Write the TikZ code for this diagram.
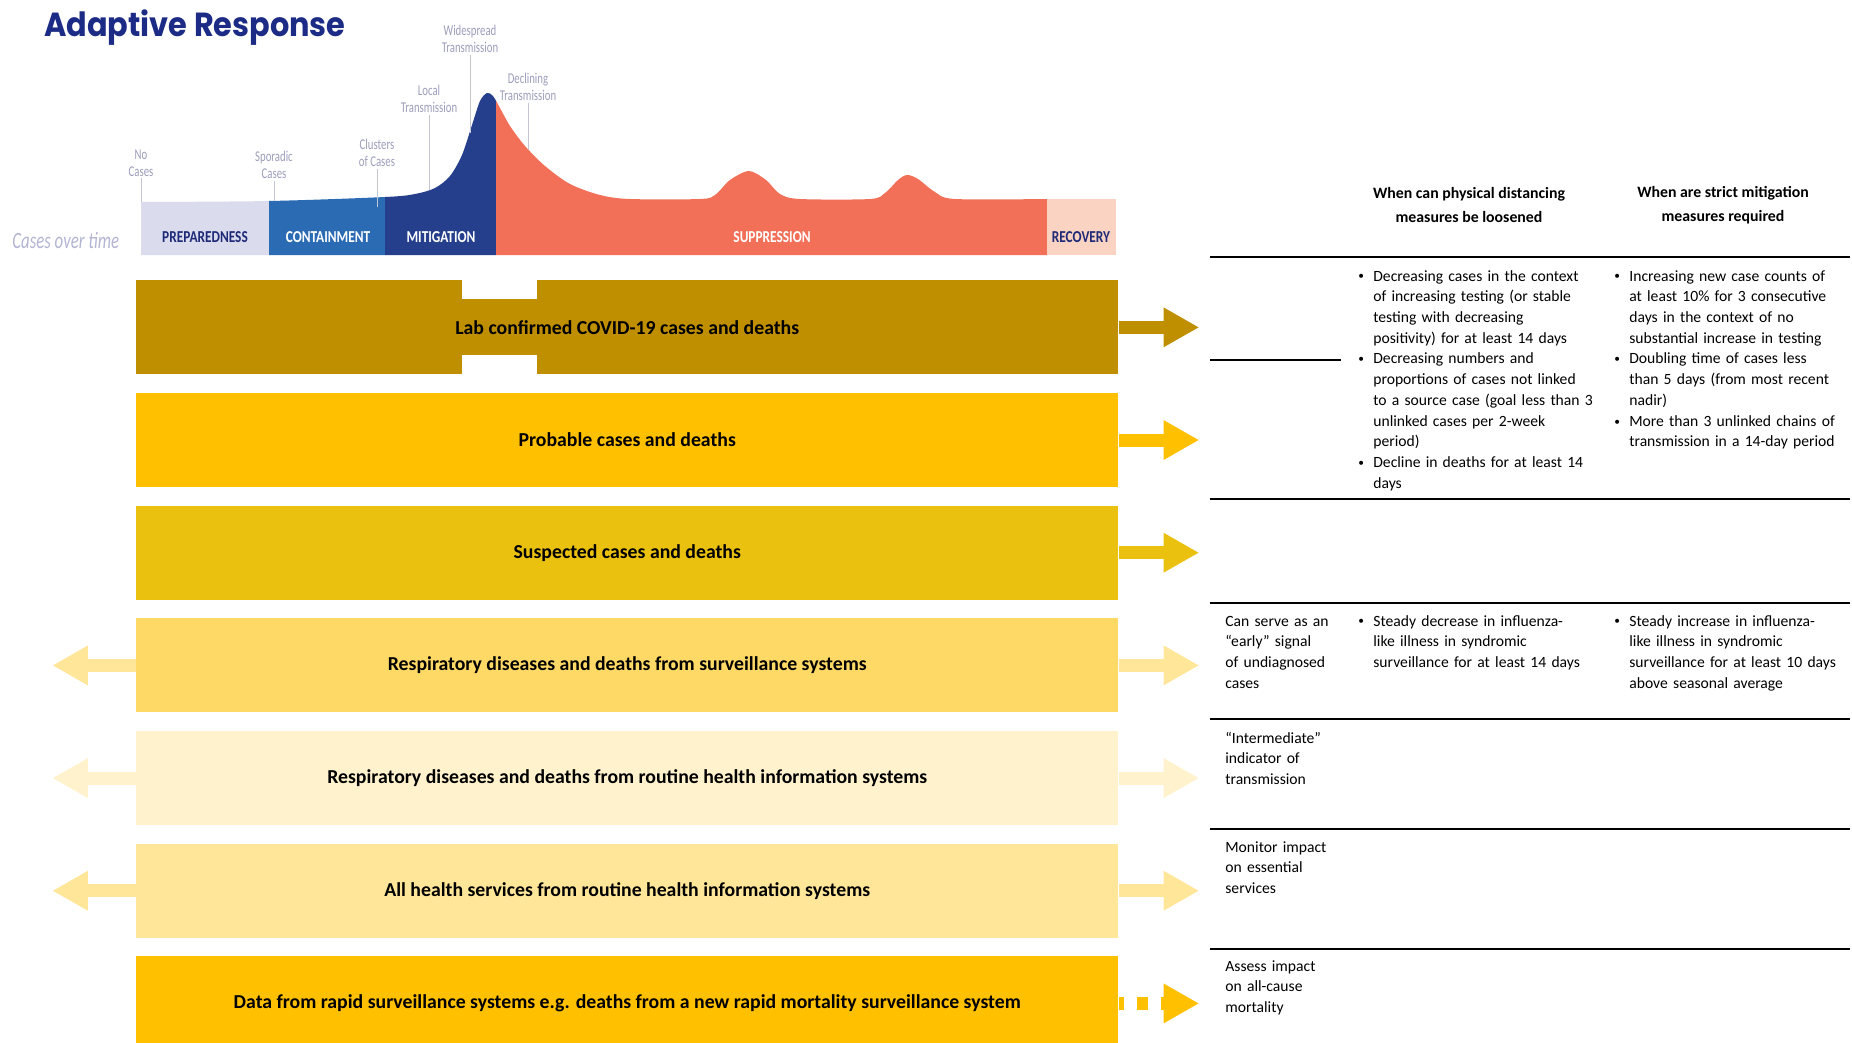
\documentclass[tikz,border=0pt]{standalone}
\usepackage{fontspec}
\setmainfont{Carlito}
\newfontfamily\titlefont[FakeStretch=0.91]{Poppins}
\newfontfamily\phasefont[FakeStretch=0.8]{Carlito}
\newfontfamily\notefont[FakeStretch=0.72]{Carlito}
\usepackage{tikz}
\usetikzlibrary{arrows.meta,positioning}

\definecolor{titleC}{HTML}{1C2C86}
\definecolor{noteC}{HTML}{9C9EBC}
\definecolor{tickC}{HTML}{C4C5D2}
\definecolor{timeC}{HTML}{B3B5D3}
\definecolor{prepC}{HTML}{DADBED}
\definecolor{contC}{HTML}{2B6BB3}
\definecolor{mitC}{HTML}{263F8D}
\definecolor{suppC}{HTML}{F26F58}
\definecolor{recC}{HTML}{FBD3C2}
\definecolor{navyT}{HTML}{1E2A78}
\definecolor{goldA}{HTML}{BF8F00}
\definecolor{yelA}{HTML}{FFC000}
\definecolor{yelB}{HTML}{EAC10E}
\definecolor{yelC}{HTML}{FFD966}
\definecolor{yelD}{HTML}{FFF2CC}
\definecolor{yelE}{HTML}{FFE699}

\newcommand{\bpt}[1]{\hangindent=0.3cm\hangafter=1\makebox[0.3cm][l]{\raisebox{0.15ex}{\fontsize{6.5}{6.5}\selectfont\textbullet}}#1\par}

\begin{document}
\begin{tikzpicture}[x=0.02cm, y=-0.02cm,
  bar/.style={minimum width=19.64cm, minimum height=1.88cm, inner sep=0pt, font=\bfseries\fontsize{11.25}{13}\selectfont},
  rarrow/.style={line width=0.26cm, -{Triangle[length=0.7cm,width=0.8cm,line width=0pt]}},
  phase/.style={inner sep=0pt, font=\phasefont\bfseries\fontsize{9.5}{11}\selectfont},
  note/.style={align=center, text=noteC, inner sep=1pt, font=\notefont\fontsize{8.5}{9.6}\selectfont},
  tick/.style={draw=tickC, line width=0.5pt},
  rule/.style={line width=1.6pt},
  cell/.style={anchor=base west, inner sep=0pt, text width=2.6cm, align=left, font=\fontsize{8.9}{11.8}\selectfont},
  bcell/.style={anchor=base west, inner sep=0pt, text width=5.4cm, font=\fontsize{8.9}{11.8}\selectfont},
  head/.style={align=center, font=\bfseries\fontsize{9}{13.3}\selectfont}]

\path[use as bounding box, fill=white] (0,0) rectangle (1852,1042);

\node[anchor=west, inner sep=0pt, text=titleC, font=\titlefont\bfseries\fontsize{19}{22}\selectfont] (title) at (44,28) {Adaptive Response};

\foreach \xa/\xb/\col in {141/269/prepC, 269/385/contC, 385/496/mitC, 496/1047/suppC}{
  \begin{scope}
    \clip (\xa,0) rectangle (\xb,255);
    \fill[\col] (141,255) -- plot[smooth, tension=0.5] coordinates {(141,202) (269,201) (385,197) (415,194) (435,188) (450,176) (462,155) (472,125) (480,101) (487,93) (493,96) (500,108) (510,126) (525,146) (545,166) (570,184) (600,195) (630,199) (700,199) (715,195) (730,180) (749,171) (766,180) (780,194) (800,199) (870,199) (885,193) (898,180) (907,175) (918,179) (935,192) (955,199) (1047,199)} -- (1047,255) -- cycle;
  \end{scope}
}
\fill[recC] (1047,199) rectangle (1116,255);

\node[anchor=west, inner sep=0pt, text=timeC, font=\notefont\itshape\fontsize{13.3}{15}\selectfont] (ctime) at (12,241) {Cases over time};
\node[phase, text=navyT] (prep) at (205,237) {PREPAREDNESS};
\node[phase, text=white] (cont) at (328,237) {CONTAINMENT};
\node[phase, text=white] (mit) at (441,237) {MITIGATION};
\node[phase, text=white] (supp) at (772,237) {SUPPRESSION};
\node[phase, text=navyT] (rec) at (1081,237) {RECOVERY};

\node[note] (nocases) at (141,163) {No\\Cases};
\node[note] (sporadic) at (274,165) {Sporadic\\Cases};
\node[note] (clusters) at (377,153) {Clusters\\of Cases};
\node[note] (local) at (429,99) {Local\\Transmission};
\node[note] (wide) at (470,39) {Widespread\\Transmission};
\node[note] (decl) at (528,87) {Declining\\Transmission};
\coordinate (nocasesPt) at (141,202);
\coordinate (sporadicPt) at (274,201);
\coordinate (clustersPt) at (377,207);
\coordinate (localPt) at (429,190);
\coordinate (widePt) at (470,133);
\coordinate (declPt) at (528,150);
\foreach \n in {nocases, sporadic, clusters, local, wide, decl}
  \draw[tick] (\n.south) -- (\n Pt);

\node[bar, anchor=north west, fill=goldA] (lab) at (136,280) {Lab confirmed COVID-19 cases and deaths};
\node[bar, fill=yelA, below=0.36cm of lab] (prob) {Probable cases and deaths};
\node[bar, fill=yelB, below=0.36cm of prob] (susp) {Suspected cases and deaths};
\node[bar, fill=yelC, below=0.36cm of susp] (surv) {Respiratory diseases and deaths from surveillance systems};
\node[bar, fill=yelD, below=0.36cm of surv] (routine) {Respiratory diseases and deaths from routine health information systems};
\node[bar, fill=yelE, below=0.36cm of routine] (serv) {All health services from routine health information systems};
\node[bar, fill=yelA, below=0.36cm of serv] (rapid) {Data from rapid surveillance systems e.g. deaths from a new rapid mortality surveillance system};
\fill[white] (462,279) rectangle (537,299);
\fill[white] (462,355) rectangle (537,375);

\foreach \n/\c in {lab/goldA, prob/yelA, susp/yelB, surv/yelE, routine/yelD, serv/yelE}
  \draw[rarrow, \c] (\n.east) -- ++(80,0);
\foreach \n/\c in {surv/yelE, routine/yelD, serv/yelE}
  \draw[rarrow, \c] (\n.west) -- ++(-83,0);
\draw[rarrow, yelA, dash pattern=on 0.22cm off 0.26cm, dash phase=0.12cm] (rapid.east) -- ++(80,0);

\node[head] (hdrA) at (1469,205) {When can physical distancing\\measures be loosened};
\node[head] (hdrB) at (1723,205) {When are strict mitigation\\measures required};
\draw[rule] (1210,257) -- (1850,257);
\draw[rule] (1210,360) -- (1341,360);
\foreach \y in {499,603,719,829,949}
  \draw[rule] (1210,\y) -- (1850,\y);

\node[bcell] (labB) at (1358,281) {\bpt{Decreasing cases in the context\newline of increasing testing (or stable\newline testing with decreasing\newline positivity) for at least 14 days}\bpt{Decreasing numbers and\newline proportions of cases not linked\newline to a source case (goal less than 3\newline unlinked cases per 2-week\newline period)}\bpt{Decline in deaths for at least 14\newline days}};
\node[bcell] (labC) at (1614,281) {\bpt{Increasing new case counts of\newline at least 10\% for 3 consecutive\newline days in the context of no\newline substantial increase in testing}\bpt{Doubling time of cases less\newline than 5 days (from most recent\newline nadir)}\bpt{More than 3 unlinked chains of\newline transmission in a 14-day period}};

\node[cell] (survA) at (1225,626) {Can serve as an\\“early” signal\\of undiagnosed\\cases};
\node[bcell] (survB) at (1358,626) {\bpt{Steady decrease in influenza-\newline like illness in syndromic\newline surveillance for at least 14 days}};
\node[bcell] (survC) at (1614,626) {\bpt{Steady increase in influenza-\newline like illness in syndromic\newline surveillance for at least 10 days\newline above seasonal average}};
\node[cell] (routineA) at (1225,743) {“Intermediate”\\indicator of\\transmission};
\node[cell] (servA) at (1225,852) {Monitor impact\\on essential\\services};
\node[cell] (rapidA) at (1225,971) {Assess impact\\on all-cause\\mortality};
\end{tikzpicture}
\end{document}
